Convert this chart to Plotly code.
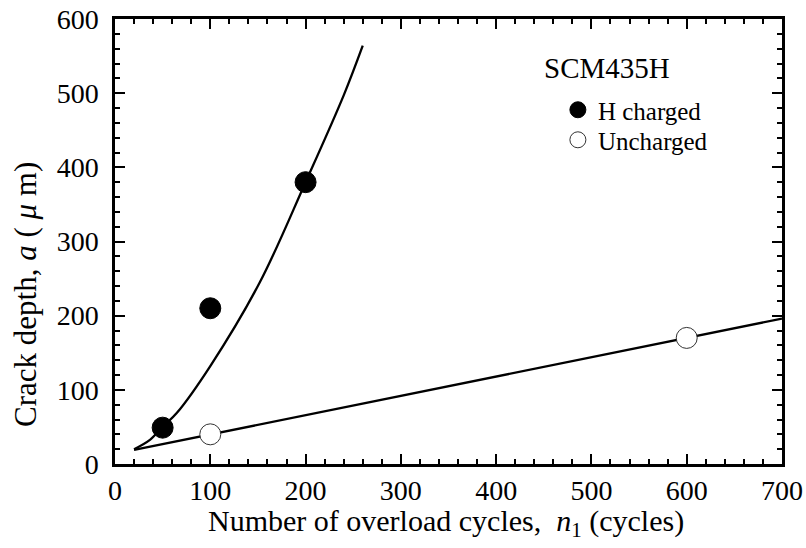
import plotly.graph_objects as go

# Measured points
h_x = [50, 100, 200]
h_y = [49, 210, 380]
u_x = [100, 600]
u_y = [40, 170]

# Fitted curves
h_fit_x = [20, 37, 50, 65, 100, 152, 200, 240, 260]
h_fit_y = [20, 33, 50, 69, 132, 245, 380, 497, 564]
u_fit_x = [20, 700]
u_fit_y = [19, 196]

x_tickvals = [0, 100, 200, 300, 400, 500, 600, 700]
y_tickvals = [0, 100, 200, 300, 400, 500, 600]

FONT = "Liberation Serif"

fig = go.Figure()
fig.add_trace(go.Scatter(x=h_fit_x, y=h_fit_y, mode="lines",
                         line=dict(color="black", width=2.3, shape="spline", smoothing=1.0),
                         showlegend=False, hoverinfo="skip"))
fig.add_trace(go.Scatter(x=u_fit_x, y=u_fit_y, mode="lines",
                         line=dict(color="black", width=2.3),
                         showlegend=False, hoverinfo="skip"))
fig.add_trace(go.Scatter(x=h_x, y=h_y, mode="markers", name="H charged", legend="legend",
                         marker=dict(size=21, color="black", line=dict(color="black", width=1))))
fig.add_trace(go.Scatter(x=u_x, y=u_y, mode="markers", name="Uncharged", legend="legend2",
                         marker=dict(size=21, color="white", line=dict(color="#333333", width=1))))

axis_common = dict(
    showline=True, linecolor="black", linewidth=2.5, mirror="allticks",
    ticks="inside", ticklen=10, tickwidth=2, tickcolor="black",
    showgrid=False, zeroline=False, automargin=False,
    tickfont=dict(family=FONT, size=28, color="black"),
    minor=dict(ticks="inside", ticklen=5, tickwidth=1.5, tickcolor="black", dtick=20, showgrid=False),
)

fig.update_xaxes(range=[0, 700], tickvals=x_tickvals, ticklabelstandoff=0, **axis_common)
fig.update_yaxes(range=[0, 600], tickvals=y_tickvals, ticklabelstandoff=8, **axis_common)

fig.add_annotation(xref="paper", yref="paper", x=0.497, y=-0.132, xanchor="center", yanchor="middle",
                   borderpad=0,
                   text="Number of overload cycles,  <i>n</i><sub>1</sub> (cycles)",
                   showarrow=False, font=dict(family=FONT, size=30, color="black"))
fig.add_annotation(xref="paper", yref="paper", x=-0.135, y=0.382, textangle=-90,
                   xanchor="center", yanchor="middle", borderpad=0,
                   text="Crack depth, <i>a</i> ( <i>μ</i> m)",
                   showarrow=False, font=dict(family=FONT, size=31, color="black"))
fig.add_annotation(xref="paper", yref="paper", x=0.64, y=0.89, xanchor="left", yanchor="middle",
                   text="SCM435H", showarrow=False,
                   font=dict(family=FONT, size=29, color="black"))

legend_common = dict(xanchor="left", yanchor="middle", bgcolor="rgba(0,0,0,0)",
                     font=dict(family=FONT, size=25, color="black"), itemsizing="trace")

fig.update_layout(
    width=806, height=548,
    margin=dict(l=115, r=24, t=19, b=84),
    paper_bgcolor="white", plot_bgcolor="white",
    font=dict(family=FONT, color="black"),
    legend=dict(x=0.664, y=0.7955, **legend_common),
    legend2=dict(x=0.664, y=0.728, **legend_common),
)

fig.write_html("out.html", config={"displayModeBar": False})

# remove the default page margin so the figure sits at the window's corner
with open("out.html", "r", encoding="utf-8") as f:
    html = f.read()
html = html.replace("<head>", "<head><style>html,body{margin:0;padding:0;overflow:hidden;}</style>", 1)
with open("out.html", "w", encoding="utf-8") as f:
    f.write(html)
